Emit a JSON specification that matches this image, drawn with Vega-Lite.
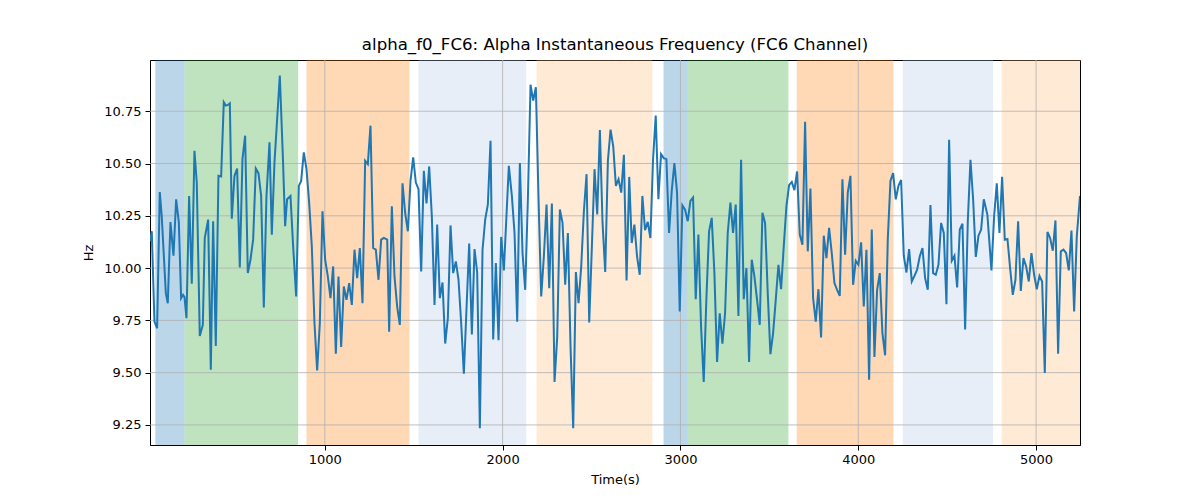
{
  "$schema": "https://vega.github.io/schema/vega-lite/v6.json",
  "width": 930,
  "height": 385,
  "autosize": {"type": "none"},
  "padding": {"left": 150, "top": 60, "right": 120, "bottom": 55},
  "background": "white",
  "title": {"text": "alpha_f0_FC6: Alpha Instantaneous Frequency (FC6 Channel)", "font": "DejaVu Sans", "fontSize": 16.6, "fontWeight": "normal", "color": "black", "anchor": "middle", "offset": 6},
  "config": {
    "view": {"stroke": "black", "strokeWidth": 1},
    "axis": {"labelFont": "DejaVu Sans", "labelFontSize": 13, "labelColor": "black", "titleFont": "DejaVu Sans", "titleFontSize": 13, "titleFontWeight": "normal", "titleColor": "black", "tickColor": "black", "tickSize": 5, "domainColor": "black", "grid": false}
  },
  "datasets": {
    "series": [
      {"t":17,"v":10.128},{"t":27,"v":10.176},{"t":42,"v":9.744},{"t":57,"v":9.712},{"t":72,"v":10.364},{"t":83,"v":10.248},{"t":106,"v":9.880},{"t":117,"v":9.832},{"t":132,"v":10.220},{"t":149,"v":10.059},{"t":164,"v":10.329},{"t":179,"v":10.220},{"t":192,"v":9.856},{"t":203,"v":9.872},{"t":211,"v":9.861},{"t":222,"v":9.760},{"t":237,"v":10.345},{"t":252,"v":9.925},{"t":267,"v":10.561},{"t":280,"v":10.409},{"t":297,"v":9.675},{"t":314,"v":9.728},{"t":325,"v":10.144},{"t":344,"v":10.232},{"t":359,"v":9.514},{"t":372,"v":10.224},{"t":387,"v":9.627},{"t":402,"v":10.441},{"t":417,"v":10.438},{"t":432,"v":10.793},{"t":443,"v":10.777},{"t":455,"v":10.780},{"t":466,"v":10.788},{"t":477,"v":10.236},{"t":492,"v":10.441},{"t":507,"v":10.476},{"t":522,"v":10.003},{"t":537,"v":10.521},{"t":552,"v":10.633},{"t":567,"v":9.976},{"t":582,"v":10.040},{"t":597,"v":10.136},{"t":612,"v":10.476},{"t":627,"v":10.454},{"t":642,"v":10.345},{"t":657,"v":9.812},{"t":672,"v":10.345},{"t":689,"v":10.601},
      {"t":702,"v":10.160},{"t":717,"v":10.505},{"t":732,"v":10.713},{"t":747,"v":10.921},{"t":764,"v":10.537},{"t":777,"v":10.200},{"t":788,"v":10.329},{"t":807,"v":10.345},{"t":822,"v":10.104},{"t":839,"v":9.864},{"t":854,"v":10.393},{"t":867,"v":10.417},{"t":882,"v":10.553},{"t":897,"v":10.473},{"t":912,"v":10.313},{"t":927,"v":10.104},{"t":942,"v":9.736},{"t":957,"v":9.511},{"t":972,"v":9.736},{"t":987,"v":10.272},{"t":1002,"v":10.040},{"t":1017,"v":9.960},{"t":1032,"v":9.856},{"t":1047,"v":10.008},{"t":1062,"v":9.591},{"t":1077,"v":9.960},{"t":1092,"v":9.623},{"t":1107,"v":9.912},{"t":1122,"v":9.848},{"t":1137,"v":9.928},{"t":1152,"v":9.824},{"t":1167,"v":10.088},{"t":1182,"v":9.952},{"t":1197,"v":10.096},{"t":1212,"v":9.832},{"t":1227,"v":10.513},{"t":1242,"v":10.497},{"t":1257,"v":10.681},{"t":1272,"v":10.096},{"t":1287,"v":10.088},{"t":1302,"v":9.944},{"t":1317,"v":10.136},{"t":1332,"v":10.144},
      {"t":1351,"v":10.136},{"t":1362,"v":9.696},{"t":1377,"v":10.296},{"t":1392,"v":9.960},{"t":1407,"v":9.816},{"t":1422,"v":9.728},{"t":1437,"v":10.405},{"t":1452,"v":10.264},{"t":1467,"v":10.176},{"t":1482,"v":10.417},{"t":1497,"v":10.529},{"t":1512,"v":10.409},{"t":1527,"v":10.377},{"t":1542,"v":9.984},{"t":1557,"v":10.465},{"t":1572,"v":10.309},{"t":1587,"v":10.486},{"t":1602,"v":10.248},{"t":1617,"v":9.824},{"t":1632,"v":10.208},{"t":1647,"v":9.856},{"t":1662,"v":9.931},{"t":1677,"v":9.639},{"t":1692,"v":9.760},{"t":1707,"v":10.204},{"t":1722,"v":9.976},{"t":1737,"v":10.032},{"t":1752,"v":9.944},{"t":1767,"v":9.736},{"t":1782,"v":9.495},{"t":1797,"v":9.808},{"t":1812,"v":10.117},{"t":1827,"v":9.683},{"t":1842,"v":10.091},{"t":1857,"v":9.979},{"t":1872,"v":9.234},{"t":1887,"v":10.088},{"t":1902,"v":10.232},{"t":1917,"v":10.304},{"t":1932,"v":10.609},{"t":1947,"v":9.659},{"t":1962,"v":10.024},{"t":1977,"v":9.655},{"t":1992,"v":10.149},{"t":2007,"v":9.989},
      {"t":2035,"v":10.489},{"t":2052,"v":10.345},{"t":2067,"v":10.168},{"t":2082,"v":9.744},{"t":2097,"v":10.502},{"t":2112,"v":10.072},{"t":2127,"v":9.896},{"t":2142,"v":10.329},{"t":2157,"v":10.877},{"t":2172,"v":10.801},{"t":2187,"v":10.865},{"t":2202,"v":10.329},{"t":2217,"v":9.864},{"t":2232,"v":10.056},{"t":2247,"v":10.304},{"t":2262,"v":9.904},{"t":2277,"v":10.309},{"t":2292,"v":9.455},{"t":2307,"v":9.671},{"t":2322,"v":10.280},{"t":2337,"v":10.216},{"t":2352,"v":9.920},{"t":2367,"v":10.168},{"t":2382,"v":9.623},{"t":2397,"v":9.234},{"t":2412,"v":9.981},{"t":2427,"v":9.832},{"t":2442,"v":10.008},{"t":2457,"v":10.272},{"t":2472,"v":10.449},{"t":2487,"v":9.740},{"t":2502,"v":10.104},{"t":2517,"v":10.473},{"t":2532,"v":10.256},{"t":2547,"v":10.660},{"t":2562,"v":10.216},{"t":2577,"v":9.981},{"t":2592,"v":10.513},{"t":2607,"v":10.662},{"t":2622,"v":10.582},{"t":2637,"v":10.393},{"t":2652,"v":10.425},{"t":2667,"v":10.361},{"t":2682,"v":10.542},{"t":2697,"v":9.941},{"t":2712,"v":10.436},
      {"t":2726,"v":10.120},{"t":2741,"v":10.208},{"t":2756,"v":10.056},{"t":2771,"v":9.968},{"t":2786,"v":10.345},{"t":2801,"v":10.181},{"t":2816,"v":10.221},{"t":2831,"v":10.144},{"t":2846,"v":10.521},{"t":2861,"v":10.729},{"t":2876,"v":10.329},{"t":2891,"v":10.545},{"t":2906,"v":10.526},{"t":2921,"v":10.521},{"t":2936,"v":10.168},{"t":2951,"v":10.369},{"t":2966,"v":10.502},{"t":2981,"v":10.361},{"t":2996,"v":9.792},{"t":3011,"v":10.300},{"t":3026,"v":10.280},{"t":3041,"v":10.224},{"t":3056,"v":10.321},{"t":3071,"v":10.337},{"t":3086,"v":9.851},{"t":3101,"v":10.160},{"t":3116,"v":9.720},{"t":3131,"v":9.455},{"t":3146,"v":9.856},{"t":3161,"v":10.176},{"t":3176,"v":10.240},{"t":3191,"v":9.976},{"t":3206,"v":9.551},{"t":3221,"v":9.784},{"t":3236,"v":9.639},{"t":3251,"v":9.784},{"t":3266,"v":10.168},{"t":3281,"v":10.313},{"t":3296,"v":10.168},{"t":3311,"v":10.304},{"t":3326,"v":9.771},{"t":3341,"v":10.518},{"t":3356,"v":9.851},{"t":3371,"v":10.000},{"t":3386,"v":9.551},
      {"t":3401,"v":10.040},{"t":3416,"v":9.960},{"t":3431,"v":9.848},{"t":3446,"v":9.728},{"t":3461,"v":10.264},{"t":3476,"v":10.216},{"t":3491,"v":9.880},{"t":3506,"v":9.588},{"t":3521,"v":9.688},{"t":3536,"v":9.848},{"t":3551,"v":10.016},{"t":3566,"v":9.899},{"t":3581,"v":10.104},{"t":3596,"v":10.296},{"t":3611,"v":10.397},{"t":3626,"v":10.412},{"t":3641,"v":10.373},{"t":3656,"v":10.462},{"t":3671,"v":10.160},{"t":3686,"v":10.112},{"t":3701,"v":10.700},{"t":3716,"v":10.080},{"t":3731,"v":10.380},{"t":3746,"v":9.856},{"t":3761,"v":9.744},{"t":3776,"v":9.899},{"t":3791,"v":9.668},{"t":3806,"v":10.155},{"t":3821,"v":10.048},{"t":3836,"v":10.192},{"t":3851,"v":10.072},{"t":3866,"v":9.928},{"t":3881,"v":9.896},{"t":3896,"v":9.867},{"t":3911,"v":10.425},{"t":3926,"v":10.064},{"t":3941,"v":10.361},{"t":3956,"v":10.441},{"t":3971,"v":9.920},{"t":3986,"v":10.035},{"t":4001,"v":10.016},{"t":4016,"v":10.123},{"t":4031,"v":9.816},{"t":4046,"v":10.088},{"t":4061,"v":9.466},
      {"t":4076,"v":10.184},{"t":4091,"v":9.575},{"t":4106,"v":9.896},{"t":4121,"v":9.976},{"t":4136,"v":9.688},{"t":4151,"v":9.583},{"t":4166,"v":10.136},{"t":4181,"v":10.417},{"t":4196,"v":10.454},{"t":4211,"v":10.329},{"t":4226,"v":10.393},{"t":4241,"v":10.421},{"t":4256,"v":10.059},{"t":4271,"v":9.979},{"t":4286,"v":10.091},{"t":4301,"v":9.936},{"t":4316,"v":9.963},{"t":4331,"v":9.992},{"t":4346,"v":10.056},{"t":4361,"v":10.096},{"t":4376,"v":9.952},{"t":4391,"v":9.896},{"t":4406,"v":10.301},{"t":4421,"v":9.976},{"t":4436,"v":9.968},{"t":4451,"v":10.016},{"t":4466,"v":10.216},{"t":4481,"v":10.168},{"t":4496,"v":9.827},{"t":4511,"v":10.614},{"t":4526,"v":10.035},{"t":4541,"v":10.059},{"t":4556,"v":9.907},{"t":4571,"v":10.184},{"t":4586,"v":10.212},{"t":4601,"v":9.707},{"t":4616,"v":10.224},{"t":4631,"v":10.518},{"t":4646,"v":10.329},{"t":4661,"v":10.053},{"t":4676,"v":10.155},{"t":4691,"v":10.184},{"t":4706,"v":10.329},
      {"t":4726,"v":10.256},{"t":4749,"v":9.989},{"t":4764,"v":10.248},{"t":4779,"v":10.405},{"t":4794,"v":10.168},{"t":4809,"v":10.437},{"t":4824,"v":10.136},{"t":4839,"v":10.139},{"t":4854,"v":10.000},{"t":4869,"v":9.872},{"t":4884,"v":9.944},{"t":4899,"v":10.224},{"t":4914,"v":9.891},{"t":4929,"v":10.048},{"t":4944,"v":10.008},{"t":4959,"v":9.936},{"t":4974,"v":10.072},{"t":4989,"v":9.968},{"t":5004,"v":9.899},{"t":5019,"v":9.963},{"t":5034,"v":9.936},{"t":5049,"v":9.498},{"t":5064,"v":10.173},{"t":5079,"v":10.144},{"t":5094,"v":10.083},{"t":5109,"v":10.228},{"t":5124,"v":9.591},{"t":5139,"v":10.080},{"t":5154,"v":10.088},{"t":5169,"v":10.072},{"t":5184,"v":9.989},{"t":5199,"v":10.179},{"t":5214,"v":9.792},{"t":5229,"v":10.152},{"t":5247,"v":10.345}
    ],
    "regions": [
      {"start":47,"end":211,"kind":"A"},
      {"start":211,"end":850,"kind":"B"},
      {"start":897,"end":1476,"kind":"C"},
      {"start":1527,"end":2133,"kind":"D"},
      {"start":2191,"end":2842,"kind":"E"},
      {"start":2905,"end":3040,"kind":"A"},
      {"start":3040,"end":3607,"kind":"B"},
      {"start":3654,"end":4198,"kind":"C"},
      {"start":4250,"end":4758,"kind":"D"},
      {"start":4807,"end":5247,"kind":"E"}
    ],
    "xgrid": [{"g":1000},{"g":2000},{"g":3000},{"g":4000},{"g":5000}],
    "ygrid": [{"g":9.25},{"g":9.5},{"g":9.75},{"g":10.0},{"g":10.25},{"g":10.5},{"g":10.75}]
  },
  "layer": [
    {
      "data": {"name": "regions"},
      "mark": {"type": "rect", "opacity": 0.3, "clip": true},
      "encoding": {
        "x": {"field": "start", "type": "quantitative", "scale": {"domain": [17, 5247], "nice": false, "zero": false},
              "axis": {"values": [1000, 2000, 3000, 4000, 5000], "format": "d", "title": "Time(s)", "labelPadding": 3, "titlePadding": 7}},
        "x2": {"field": "end"},
        "color": {"field": "kind", "type": "nominal", "scale": {"domain": ["A", "B", "C", "D", "E"], "range": ["#1f77b4", "#2ca02c", "#ff7f0e", "#aec7e8", "#ffbb78"]}, "legend": null}
      }
    },
    {
      "data": {"name": "xgrid"},
      "mark": {"type": "rule", "color": "#b0b0b0", "strokeWidth": 0.8},
      "encoding": {"x": {"field": "g", "type": "quantitative"}}
    },
    {
      "data": {"name": "ygrid"},
      "mark": {"type": "rule", "color": "#b0b0b0", "strokeWidth": 0.8},
      "encoding": {"y": {"field": "g", "type": "quantitative"}}
    },
    {
      "data": {"name": "series"},
      "mark": {"type": "line", "color": "#1f77b4", "strokeWidth": 2, "clip": true},
      "encoding": {
        "x": {"field": "t", "type": "quantitative"},
        "y": {"field": "v", "type": "quantitative", "scale": {"domain": [9.154, 10.995], "nice": false, "zero": false},
              "axis": {"values": [9.25, 9.5, 9.75, 10.0, 10.25, 10.5, 10.75], "format": ".2f", "title": "Hz", "labelPadding": 4, "titlePadding": 8}}
      }
    }
  ]
}
